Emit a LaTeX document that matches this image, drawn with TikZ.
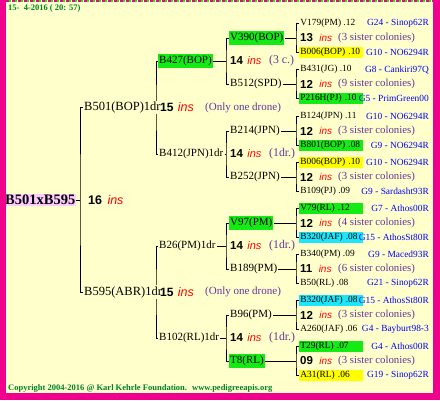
\documentclass[tikz,border=0pt]{standalone}
\usepackage{fontspec}
\setmainfont{Liberation Serif}
\newfontfamily\numfont{Liberation Sans}
\usetikzlibrary{positioning}
\pgfdeclarelayer{paper}
\pgfdeclarelayer{wires}
\pgfsetlayers{paper,wires,main}
\definecolor{pagebg}{RGB}{255,255,204}
\definecolor{frame}{RGB}{240,0,140}
\definecolor{stampgreen}{RGB}{0,128,40}
\definecolor{genblue}{RGB}{0,0,255}
\definecolor{insred}{RGB}{255,0,0}
\definecolor{notepurple}{RGB}{102,51,153}
\definecolor{hlgreen}{RGB}{20,235,20}
\definecolor{hlyellow}{RGB}{255,255,0}
\definecolor{hlcyan}{RGB}{30,230,250}
\definecolor{hlpink}{RGB}{255,204,255}
\tikzset{
  rootbox/.style={anchor=west, inner sep=1pt, fill=hlpink, font=\bfseries\fontsize{14.5}{15}\selectfont},
  dronebox/.style={anchor=west, inner sep=1pt, fill=pagebg, font=\fontsize{12.5}{13}\selectfont},
  queenbox/.style={anchor=west, inner xsep=1pt, inner ysep=2pt, font=\fontsize{11}{12}\selectfont},
  sisterbox/.style={anchor=west, inner sep=1.2pt, font=\fontsize{9.4}{10}\selectfont},
  hl/.style={fill=#1, text width=61pt},
  genline/.style={anchor=east, inner sep=1pt, text=genblue, font=\fontsize{9.4}{10}\selectfont},
  cnt/.style={anchor=west, inner sep=1pt, font=\numfont\bfseries\fontsize{#1}{#1}\selectfont},
  cnt/.default=11.5,
  insl/.style={anchor=west, inner sep=1pt, text=insred, font=\numfont\itshape\fontsize{#1}{#1}\selectfont},
  insl/.default=10,
  remark/.style={anchor=west, inner sep=1pt, text=notepurple, font=\fontsize{#1}{#1}\selectfont},
  remark/.default=10.8,
  stamp/.style={anchor=west, inner sep=0pt, text=stampgreen, font=\bfseries\fontsize{8.5}{9}\selectfont},
}

\begin{document}
\begin{tikzpicture}[x=1pt, y=-1pt, line width=1pt]
  \begin{pgfonlayer}{paper}
    \fill[pagebg] (0,0) rectangle (440,400);
  \end{pgfonlayer}
  \useasboundingbox (0,0) rectangle (440,400);

  % bracket columns
  \coordinate (k1) at (80,0);
  \coordinate (k2) at (156,0);
  \coordinate (k3) at (226,0);
  \coordinate (k4) at (296,0);

  \node[stamp] (date) at (8,8) {15-\ \ 4-2016 ( 20: 57)};

  % pair and drones
  \node[rootbox] (root) at (4,199.75) {B501xB595};
  \node[cnt=12.5] (n16) at (87,199.75) {16};
  \node[insl=12.5, right=3pt of n16] (i16) {ins};

  \node[dronebox] (b501) at (83,107.5) {B501(BOP)1dr};
  \node[cnt=12] (n15a) at (159,107.5) {15};
  \node[insl=12.5, right=2pt of n15a] (i15a) {ins};
  \node[remark=11] (r15a) at (204,107.5) {(Only one drone)};

  \node[dronebox] (b595) at (83,292) {B595(ABR)1dr};
  \node[cnt=12] (n15b) at (159,292) {15};
  \node[insl=12.5, right=2pt of n15b] (i15b) {ins};
  \node[remark=11] (r15b) at (204,292) {(Only one drone)};

  % grand parents
  \node[queenbox, fill=hlgreen] (b427) at (158,61) {B427(BOP)};
  \node[cnt] (n14a) at (229,61) {14};
  \node[insl=11, right=2pt of n14a] (i14a) {ins};
  \node[remark=11.8] (r14a) at (268,61) {(3 c.)};

  \node[queenbox] (b412) at (158,154) {B412(JPN)1dr};
  \node[cnt] (n14b) at (229,154) {14};
  \node[insl=11, right=2pt of n14b] (i14b) {ins};
  \node[remark=11.8] (r14b) at (268,154) {(1dr.)};

  \node[queenbox] (b26) at (158,246) {B26(PM)1dr};
  \node[cnt] (n14c) at (229,246) {14};
  \node[insl=11, right=2pt of n14c] (i14c) {ins};
  \node[remark=11.8] (r14c) at (268,246) {(1dr.)};

  \node[queenbox] (b102) at (158,338) {B102(RL)1dr};
  \node[cnt] (n14d) at (229,338) {14};
  \node[insl=11, right=2pt of n14d] (i14d) {ins};
  \node[remark=11.8] (r14d) at (268,338) {(1dr.)};

  % third generation
  \node[queenbox, fill=hlgreen] (v390) at (229,38) {V390(BOP)};
  \node[queenbox] (b512) at (229,84) {B512(SPD)};
  \node[queenbox] (b214) at (229,131) {B214(JPN)};
  \node[queenbox] (b252) at (229,177) {B252(JPN)};
  \node[queenbox, fill=hlgreen] (v97) at (229,223) {V97(PM)};
  \node[queenbox] (b189) at (229,269) {B189(PM)};
  \node[queenbox] (b96) at (229,315) {B96(PM)};
  \node[queenbox, fill=hlgreen] (t8) at (229,361) {T8(RL)};

  % fourth generation
  \node[sisterbox] (v179) at (299,23.5) {V179(PM) .12};
  \node[genline] (v179g) at (430,23.5) {G24 - Sinop62R};
  \node[cnt] (n13) at (299,38) {13};
  \node[insl, right=4pt of n13] (i13) {ins};
  \node[remark] (s13) at (337,38) {(3 sister colonies)};
  \node[sisterbox, hl=hlyellow] (b006a) at (299,52.5) {B006(BOP) .10};
  \node[genline] (b006ag) at (430,52.5) {G10 - NO6294R};

  \node[sisterbox] (b431) at (299,69.5) {B431(JG) .10};
  \node[genline] (b431g) at (430,69.5) {G8 - Cankiri97Q};
  \node[cnt] (n12a) at (299,84) {12};
  \node[insl, right=4pt of n12a] (i12a) {ins};
  \node[remark] (s12a) at (337,84) {(9 sister colonies)};
  \node[sisterbox, hl=hlgreen] (p216) at (299,98.5) {P216H(PJ) .10};
  \node[genline] (p216g) at (430,98.5) {G5 - PrimGreen00};

  \node[sisterbox] (b124) at (299,116.5) {B124(JPN) .11};
  \node[genline] (b124g) at (430,116.5) {G10 - NO6294R};
  \node[cnt] (n12b) at (299,131) {12};
  \node[insl, right=4pt of n12b] (i12b) {ins};
  \node[remark] (s12b) at (337,131) {(3 sister colonies)};
  \node[sisterbox, hl=hlgreen] (b801) at (299,145.5) {B801(BOP) .08};
  \node[genline] (b801g) at (430,145.5) {G9 - NO6294R};

  \node[sisterbox, hl=hlyellow] (b006b) at (299,162.5) {B006(BOP) .10};
  \node[genline] (b006bg) at (430,162.5) {G10 - NO6294R};
  \node[cnt] (n12c) at (299,177) {12};
  \node[insl, right=4pt of n12c] (i12c) {ins};
  \node[remark] (s12c) at (337,177) {(3 sister colonies)};
  \node[sisterbox] (b109) at (299,191.5) {B109(PJ) .09};
  \node[genline] (b109g) at (430,191.5) {G9 - Sardasht93R};

  \node[sisterbox, hl=hlgreen] (v79) at (299,208.5) {V79(RL) .12};
  \node[genline] (v79g) at (430,208.5) {G7 - Athos00R};
  \node[cnt] (n12d) at (299,223) {12};
  \node[insl, right=4pt of n12d] (i12d) {ins};
  \node[remark] (s12d) at (337,223) {(4 sister colonies)};
  \node[sisterbox, hl=hlcyan] (b320a) at (299,237.5) {B320(JAF) .08};
  \node[genline] (b320ag) at (430,237.5) {G15 - AthosSt80R};

  \node[sisterbox] (b340) at (299,254.5) {B340(PM) .09};
  \node[genline] (b340g) at (430,254.5) {G9 - Maced93R};
  \node[cnt] (n11) at (299,269) {11};
  \node[insl, right=4pt of n11] (i11) {ins};
  \node[remark] (s11) at (337,269) {(6 sister colonies)};
  \node[sisterbox] (b50) at (299,283.5) {B50(RL) .08};
  \node[genline] (b50g) at (430,283.5) {G21 - Sinop62R};

  \node[sisterbox, hl=hlcyan] (b320b) at (299,300.5) {B320(JAF) .08};
  \node[genline] (b320bg) at (430,300.5) {G15 - AthosSt80R};
  \node[cnt] (n12e) at (299,315) {12};
  \node[insl, right=4pt of n12e] (i12e) {ins};
  \node[remark] (s12e) at (337,315) {(3 sister colonies)};
  \node[sisterbox] (a260) at (299,329.5) {A260(JAF) .06};
  \node[genline] (a260g) at (430,329.5) {G4 - Bayburt98-3};

  \node[sisterbox, hl=hlgreen] (t29) at (299,346.5) {T29(RL) .07};
  \node[genline] (t29g) at (430,346.5) {G4 - Athos00R};
  \node[cnt] (n09) at (299,361) {09};
  \node[insl, right=4pt of n09] (i09) {ins};
  \node[remark] (s09) at (337,361) {(3 sister colonies)};
  \node[sisterbox, hl=hlyellow] (a31) at (299,375.5) {A31(RL) .06};
  \node[genline] (a31g) at (430,375.5) {G19 - Sinop62R};

  \node[stamp] (copy) at (8,388) {Copyright 2004-2016 @ Karl Kehrle Foundation.};
  \node[stamp] (www) at (192,388) {www.pedigreeapis.org};

  % brackets
  \begin{pgfonlayer}{wires}
    \draw (root.east) -- (k1 |- root.east);
    \draw (b501.west) -| (k1 |- root) |- (b595.west);

    \draw (b427.west) -| (k2 |- b501) |- (b412.west);
    \draw (b26.west) -| (k2 |- b595) |- (b102.west);

    \draw (b427.east) -- (k3 |- b427.east);
    \draw (v390.west) -| (k3 |- b427) |- (b512.west);
    \draw (b412.east) -- (k3 |- b412.east);
    \draw (b214.west) -| (k3 |- b412) |- (b252.west);
    \draw (b26.east) -- (k3 |- b26.east);
    \draw (v97.west) -| (k3 |- b26) |- (b189.west);
    \draw (b102.east) -- (k3 |- b102.east);
    \draw (b96.west) -| (k3 |- b102) |- (t8.west);

    \draw (v390.east) -- (k4 |- v390.east);
    \draw (v179.west) -| (k4 |- v390) |- (b006a.west);
    \draw (b512.east) -- (k4 |- b512.east);
    \draw (b431.west) -| (k4 |- b512) |- (p216.west);
    \draw (b214.east) -- (k4 |- b214.east);
    \draw (b124.west) -| (k4 |- b214) |- (b801.west);
    \draw (b252.east) -- (k4 |- b252.east);
    \draw (b006b.west) -| (k4 |- b252) |- (b109.west);
    \draw (v97.east) -- (k4 |- v97.east);
    \draw (v79.west) -| (k4 |- v97) |- (b320a.west);
    \draw (b189.east) -- (k4 |- b189.east);
    \draw (b340.west) -| (k4 |- b189) |- (b50.west);
    \draw (b96.east) -- (k4 |- b96.east);
    \draw (b320b.west) -| (k4 |- b96) |- (a260.west);
    \draw (t8.east) -- (k4 |- t8.east);
    \draw (t29.west) -| (k4 |- t8) |- (a31.west);
  \end{pgfonlayer}

  % page frame
  \fill[frame] (0,0) rectangle (6,400);
  \fill[frame] (433,0) rectangle (440,400);
  \fill[frame] (0,393) rectangle (440,400);
  \draw[frame, line width=2pt, dash pattern=on 3pt off 3pt] (6,1) -- (433,1);
  \draw[hlgreen, line width=2pt, dash pattern=on 2pt off 4pt, dash phase=-3pt] (6,1) -- (433,1);
\end{tikzpicture}
\end{document}
